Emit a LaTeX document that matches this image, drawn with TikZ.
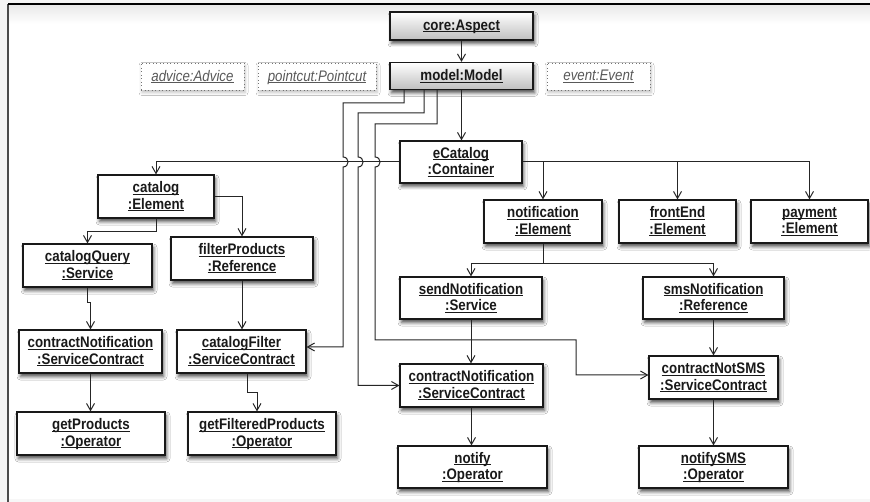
\documentclass[tikz,border=0pt]{standalone}
\usepackage{fontspec}
\setmainfont{Liberation Sans}[FakeStretch=0.87]
\usetikzlibrary{arrows.meta,shadows,shadows.blur,calc}
\newcommand\ulx[1]{\underline{\raisebox{0pt}[\height][0pt]{#1}}}
\begin{document}
\begin{tikzpicture}[x=1pt,y=-1pt,
  obj/.style={draw=black!90, line width=1.2pt, fill=white, minimum height=43pt, inner sep=0pt,
    align=center, font=\fontsize{15.3}{16.5}\selectfont\bfseries, text=black!90,
    blur shadow={shadow xshift=1.5pt, shadow yshift=-3.5pt, shadow blur radius=3.5pt, shadow opacity=70}},
  grad/.style={top color=white, bottom color=gray!50},
  ghost/.style={draw=black!55, line width=0.9pt, dash pattern=on 0.9pt off 2.6pt, fill=white,
    minimum height=27pt, inner sep=0pt, font=\fontsize{15.3}{16.5}\selectfont\itshape, text=black!65,
    blur shadow={shadow xshift=1pt, shadow yshift=-2.5pt, shadow blur radius=3pt, shadow opacity=25}},
  arr/.style={draw=black!85, line width=1pt, -{Straight Barb[length=7pt,width=8pt]}}
]
\useasboundingbox (0,0) rectangle (870,502);
% window background and frame
\fill[gray!8] (0,0) rectangle (870,502);
\fill[white] (8,4) rectangle (870,502);
\shade[top color=gray!18, bottom color=white] (8,4) rectangle (870,24);
\fill[gray!6] (8,499) rectangle (870,502);
\draw[black!70, line width=1.2pt] (8,4) -- (8,502);
\draw[black, line width=2pt] (8,4) -- (870,4);

% nodes
\node[obj, grad, minimum width=143pt, minimum height=28pt] (core) at (461.5,26) {\ulx{core:Aspect}};
\node[obj, grad, minimum width=143pt, minimum height=27pt] (model) at (461.5,76) {\ulx{model:Model}};
\node[ghost, minimum width=103pt] (advice) at (192.5,76.5) {\ulx{advice:Advice}};
\node[ghost, minimum width=118pt] (pointcut) at (317,76.5) {\ulx{pointcut:Pointcut}};
\node[ghost, minimum width=103pt] (event) at (598.5,76.5) {\ulx{event:Event}};

\node[obj, minimum width=122pt, minimum height=42pt] (eCat) at (461,162) {\ulx{eCatalog}\\\ulx{:Container}};
\node[obj, minimum width=116pt] (catalog) at (156,196.5) {\ulx{catalog}\\\ulx{:Element}};
\node[obj, minimum width=118pt] (notification) at (543,221.5) {\ulx{notification}\\\ulx{:Element}};
\node[obj, minimum width=117pt] (frontEnd) at (677.5,221.5) {\ulx{frontEnd}\\\ulx{:Element}};
\node[obj, minimum width=117pt] (payment) at (809.5,221.5) {\ulx{payment}\\\ulx{:Element}};

\node[obj, minimum width=129pt] (catalogQuery) at (87.5,265.5) {\ulx{catalogQuery}\\\ulx{:Service}};
\node[obj, minimum width=142pt] (filterProducts) at (242,258.5) {\ulx{filterProducts}\\\ulx{:Reference}};
\node[obj, minimum width=142pt, minimum height=42pt] (send) at (471,298) {\ulx{sendNotification}\\\ulx{:Service}};
\node[obj, minimum width=141pt, minimum height=42pt] (sms) at (713.5,298) {\ulx{smsNotification}\\\ulx{:Reference}};

\node[obj, minimum width=143pt] (cnL) at (90.5,351.5) {\ulx{contractNotification}\\\ulx{:ServiceContract}};
\node[obj, minimum width=129pt] (catalogFilter) at (241.5,351.5) {\ulx{catalogFilter}\\\ulx{:ServiceContract}};
\node[obj, minimum width=143pt] (cnM) at (471.5,385.5) {\ulx{contractNotification}\\\ulx{:ServiceContract}};
\node[obj, minimum width=129pt] (cnSMS) at (713.5,377.5) {\ulx{contractNotSMS}\\\ulx{:ServiceContract}};

\node[obj, minimum width=148pt] (getProducts) at (91,433.5) {\ulx{getProducts}\\\ulx{:Operator}};
\node[obj, minimum width=148pt] (getFiltered) at (262,433.5) {\ulx{getFilteredProducts}\\\ulx{:Operator}};
\node[obj, minimum width=149pt, minimum height=42pt] (notify) at (472.5,467) {\ulx{notify}\\\ulx{:Operator}};
\node[obj, minimum width=149pt, minimum height=42pt] (notifySMS) at (713.5,467) {\ulx{notifySMS}\\\ulx{:Operator}};

% connectors
\draw[arr] (core) -- (model);
\draw[arr] (model.south) -- (model.south |- eCat.north);

\draw[arr] ([xshift=-57.5pt]model.south) |- (343,103) -- (343,157)
  .. controls (349.7,157) and (349.7,167) .. (343,167) |- ([yshift=4.5pt]catalogFilter.east);
\draw[arr] ([xshift=-37.5pt]model.south) |- (358,113) -- (358,157)
  .. controls (364.7,157) and (364.7,167) .. (358,167) |- (cnM.west);
\draw[arr] ([xshift=-24.5pt]model.south) |- (375,124) -- (375,157)
  .. controls (381.7,157) and (381.7,167) .. (375,167) |- (576,340) |- ([yshift=2.5pt]cnSMS.west);

\draw[arr] (eCat.west) -| (catalog.north);
\draw[arr] (eCat.east) -| (notification.north);
\draw[arr] (eCat.east) -| (frontEnd.north);
\draw[arr] (eCat.east) -| (payment.north);

\draw[arr] (catalog.south) -- ++(0,13) -| (catalogQuery.north);
\draw[arr] (catalog.east) -| (filterProducts.north);
\draw[arr] (catalogQuery.south) -- ++(0,15) -| (cnL.north);
\draw[arr] (filterProducts.south) -- (filterProducts.south |- catalogFilter.north);
\draw[arr] (cnL.south) -- (cnL.south |- getProducts.north);
\draw[arr] ([xshift=5.5pt]catalogFilter.south) -- ++(0,19) -| ([xshift=-5pt]getFiltered.north);

\draw[arr] (notification.south) -- ++(0,20) -| (send.north);
\draw[arr] (notification.south) -- ++(0,20) -| (sms.north);
\draw[arr] (send.south) -- (send.south |- cnM.north);
\draw[arr] (sms.south) -- (sms.south |- cnSMS.north);
\draw[arr] (cnM.south) -- (cnM.south |- notify.north);
\draw[arr] (cnSMS.south) -- (cnSMS.south |- notifySMS.north);
\end{tikzpicture}
\end{document}
